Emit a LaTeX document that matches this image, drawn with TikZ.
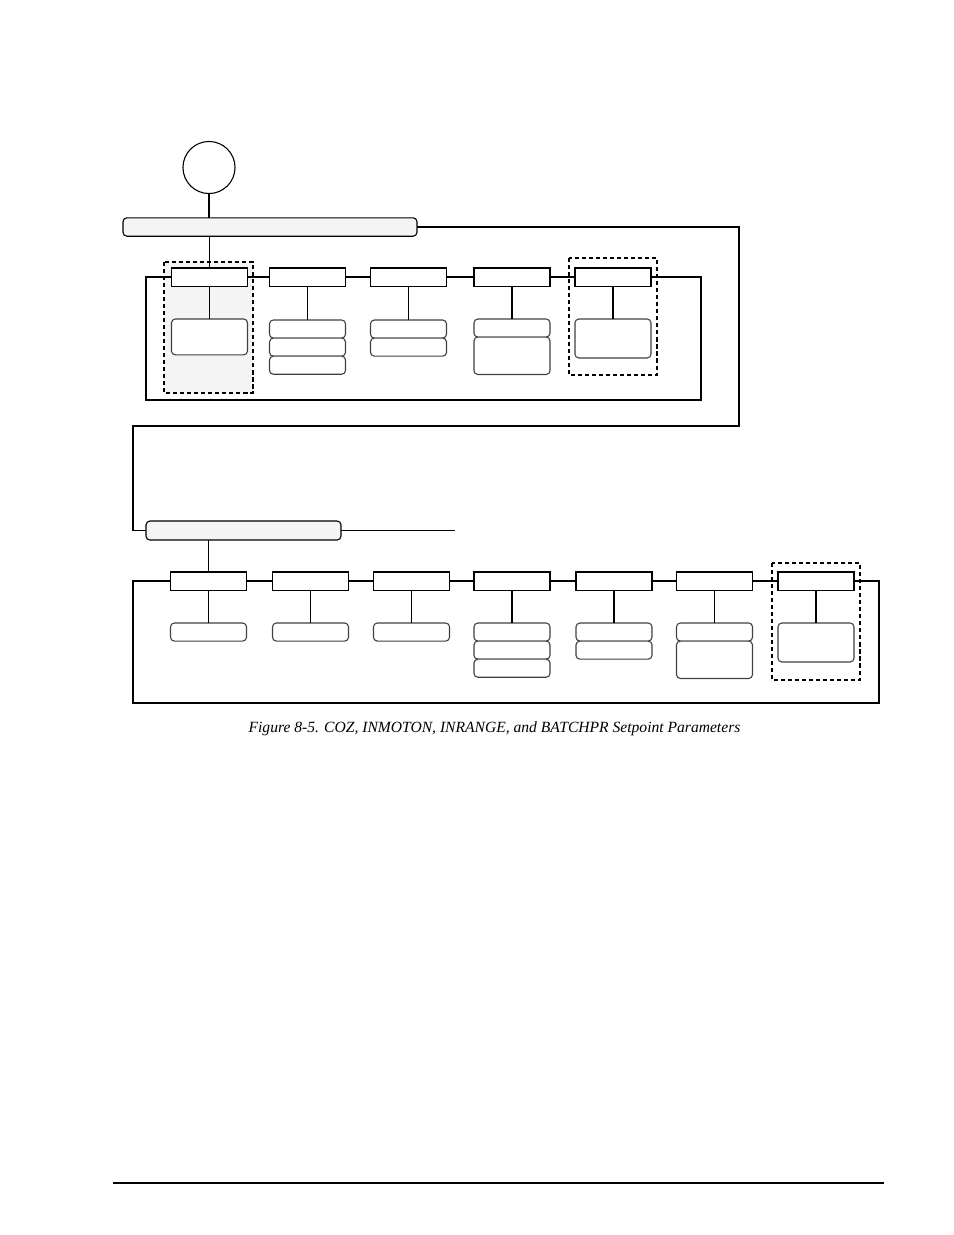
\documentclass[tikz,border=0pt]{standalone}
\usepackage{fontspec}
\setmainfont{Liberation Serif}
\usetikzlibrary{positioning}

\tikzset{
  menubar/.style={draw, fill=gray!9, rounded corners=2.5pt, outer sep=0pt, minimum height=11.8pt},
  param/.style={draw, fill=white, outer sep=0pt, minimum width=48.8pt, minimum height=11.6pt},
  choice/.style={draw=black!75, fill=white, rounded corners=2.5pt, outer sep=0pt, minimum width=48.8pt, minimum height=11.6pt},
  tallchoice/.style={choice, minimum height=24pt},
  group/.style={dash pattern=on 2.6pt off 1.9pt, line width=0.75pt}
}

\begin{document}
\begin{tikzpicture}[x=0.6415pt, y=-0.6415pt, line width=0.7pt]
    \useasboundingbox (0,0) rectangle (954,1235);

    % Dashed groups (behind everything)
    \draw[group, fill=gray!9] (164,262) rectangle (253,393);
    \draw[group] (569,258) rectangle (657,375);
    \draw[group] (772,563) rectangle (860,680);

    % Entry point and first menu bar
    \node[draw, circle, minimum size=33.4pt, outer sep=0pt] (start) at (209,167.5) {};
    \node[menubar, minimum width=188.6pt] (bar1) at (270,227) {};
    \draw (start.south) -- (start.south |- bar1.north);

    % Row 1 parameters
    \foreach \i/\x in {1/209.5, 2/307.5, 3/408.5, 4/512, 5/613}
        \node[param] (p\i) at (\x,277) {};
    \foreach \i/\j in {1/2, 2/3, 3/4, 4/5}
        \draw (p\i.east) -- (p\j.west);
    \draw (p1.north |- bar1.south) -- (p1.north);

    % Row 1 loop back
    \coordinate (loopA) at (146,400);
    \coordinate (loopB) at (701,400);
    \draw (p1.west) -| (loopA) -- (loopB) |- (p5.east);

    % Row 1 values
    \node[tallchoice, anchor=north, minimum height=23pt] (c1) at (209.5,319) {};
    \node[choice, anchor=north] (c2a) at (307.5,320) {};
    \node[choice, below=0pt of c2a] (c2b) {};
    \node[choice, below=0pt of c2b] (c2c) {};
    \node[choice, anchor=north] (c3a) at (408.5,320) {};
    \node[choice, below=0pt of c3a] (c3b) {};
    \node[choice, anchor=north] (c4a) at (512,319) {};
    \node[tallchoice, below=0pt of c4a] (c4b) {};
    \node[tallchoice, anchor=north, minimum height=25pt] (c5) at (613,319) {};
    \foreach \i/\c in {1/c1, 2/c2a, 3/c3a, 4/c4a, 5/c5}
        \draw (p\i.south) -- (\c.north);

    % Link to second menu bar
    \node[menubar, minimum width=125.1pt, minimum height=12.2pt] (bar2) at (243.5,530.5) {};
    \coordinate (linkA) at (739,227);
    \coordinate (linkB) at (739,426);
    \coordinate (linkC) at (133,426);
    \draw (bar1.east) -- (linkA) -- (linkB) -- (linkC) |- (bar2.west);
    \coordinate (bar2end) at (455,530.5);
    \draw (bar2.east) -- (bar2end);

    % Row 2 parameters
    \foreach \i/\x in {1/208.5, 2/310.5, 3/411.5, 4/512, 5/614, 6/714.5, 7/816}
        \node[param] (q\i) at (\x,581) {};
    \foreach \i/\j in {1/2, 2/3, 3/4, 4/5, 5/6, 6/7}
        \draw (q\i.east) -- (q\j.west);
    \draw (q1.north |- bar2.south) -- (q1.north);

    % Row 2 loop back
    \coordinate (loopC) at (133,703);
    \coordinate (loopD) at (879,703);
    \draw (q1.west) -| (loopC) -- (loopD) |- (q7.east);

    % Row 2 values
    \node[choice, anchor=north] (d1) at (208.5,623) {};
    \node[choice, anchor=north] (d2) at (310.5,623) {};
    \node[choice, anchor=north] (d3) at (411.5,623) {};
    \node[choice, anchor=north] (d4a) at (512,623) {};
    \node[choice, below=0pt of d4a] (d4b) {};
    \node[choice, below=0pt of d4b] (d4c) {};
    \node[choice, anchor=north] (d5a) at (614,623) {};
    \node[choice, below=0pt of d5a] (d5b) {};
    \node[choice, anchor=north] (d6a) at (714.5,623) {};
    \node[tallchoice, below=0pt of d6a] (d6b) {};
    \node[tallchoice, anchor=north, minimum height=25pt] (d7) at (816,623) {};
    \foreach \i/\c in {1/d1, 2/d2, 3/d3, 4/d4a, 5/d5a, 6/d6a, 7/d7}
        \draw (q\i.south) -- (\c.north);

    % Caption
    \node[font=\itshape\fontsize{10}{12}\selectfont] (caption) at (494.5,729)
        {Figure 8-5. COZ, INMOTON, INRANGE, and BATCHPR Setpoint Parameters};

    % Footer rule
    \coordinate (footL) at (113,1183);
    \coordinate (footR) at (884,1183);
    \draw[line width=1pt] (footL) -- (footR);
\end{tikzpicture}
\end{document}
